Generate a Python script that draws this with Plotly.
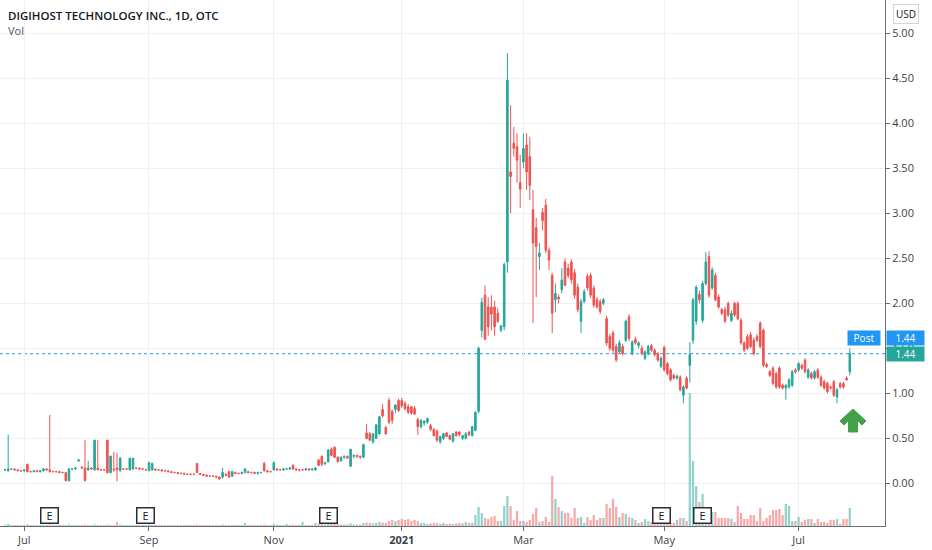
import plotly.graph_objects as go

# ---------------- DATA ----------------
# one entry per daily bar (index 0 = late June 2020, last = late July 2021)
open_ = [
    .15,.14,.16,.16,.15,.14,.14,.21,.13,.13,
    .14,.13,.14,.16,.15,.13,.13,.13,.12,.12,
    .03,.16,.16,.25,.18,.17,.15,.17,.15,.17,
    .15,.15,.48,.12,.16,.17,.14,.16,.16,.15,
    .16,.17,.17,.16,.15,.14,.15,.16,.15,.15,
    .14,.14,.13,.12,.12,.11,.11,.10,.10,.10,
    .22,.11,.10,.09,.08,.08,.08,.07,.07,.10,
    .13,.08,.12,.11,.11,.12,.13,.12,.12,.11,
    .12,.22,.14,.13,.15,.16,.15,.15,.16,.16,
    .20,.16,.15,.15,.15,.16,.15,.15,.26,.30,
    .22,.24,.38,.40,.29,.25,.29,.30,.19,.30,
    .31,.30,.29,.56,.55,.46,.50,.55,.82,.62,
    .92,.80,.82,.92,.92,.89,.85,.85,.83,.71,
    .63,.67,.68,.64,.60,.58,.46,.50,.56,.53,
    .47,.57,.57,.50,.50,.57,.53,.59,.80,1.70,
    2.09,1.96,1.96,1.96,1.89,1.70,1.74,2.46,3.46,3.78,
    3.74,3.34,3.57,3.76,3.63,3.04,2.84,2.52,3.01,3.09,
    2.59,2.31,2.04,2.07,2.15,2.46,2.39,2.46,2.34,2.18,
    1.80,2.02,2.30,2.31,2.17,2.04,2.02,2.00,1.83,1.63,
    1.67,1.52,1.46,1.52,1.59,1.85,1.44,1.60,1.53,1.50,
    1.39,1.44,1.53,1.48,1.44,1.30,1.51,1.33,1.26,1.20,
    1.17,1.18,.98,1.17,1.31,1.59,1.80,2.10,1.81,2.22,
    2.52,2.17,2.31,2.07,1.93,1.93,2.00,1.81,2.00,2.00,
    1.81,1.56,1.63,1.65,1.59,1.63,1.78,1.70,1.32,1.24,
    1.28,1.22,1.28,1.09,1.06,1.07,1.09,1.26,1.26,1.31,
    1.37,1.18,1.22,1.17,1.26,1.18,1.13,1.11,1.07,1.13,
    .96,1.11,1.11,1.17,1.24,
]
high = [
    .16,.54,.17,.16,.15,.15,.15,.22,.14,.14,
    .15,.14,.17,.17,.76,.14,.14,.14,.13,.12,
    .17,.17,.18,.27,.19,.48,.25,.18,.48,.48,
    .16,.16,.48,.31,.35,.34,.29,.17,.17,.28,
    .28,.18,.17,.17,.16,.24,.23,.16,.16,.15,
    .15,.14,.14,.13,.12,.12,.12,.11,.11,.11,
    .22,.11,.10,.10,.09,.09,.08,.08,.17,.11,
    .14,.14,.13,.12,.13,.17,.14,.13,.13,.13,
    .13,.24,.15,.14,.24,.17,.16,.17,.17,.18,
    .21,.17,.16,.16,.17,.17,.17,.18,.27,.31,
    .24,.38,.40,.41,.30,.30,.31,.31,.38,.32,
    .32,.31,.44,.66,.57,.56,.66,.75,.88,.64,
    .95,.82,.88,.94,.95,.91,.88,.86,.86,.73,
    .71,.70,.73,.66,.61,.60,.53,.56,.57,.54,
    .56,.58,.58,.54,.57,.58,.64,.80,1.52,2.06,
    2.20,2.07,2.09,2.03,1.95,1.76,2.45,4.78,4.20,3.96,
    3.89,3.65,3.89,3.89,3.85,3.26,2.95,2.67,3.06,3.16,
    2.62,2.34,2.22,2.10,2.39,2.50,2.44,2.49,2.38,2.22,
    2.05,2.16,2.33,2.34,2.20,2.07,2.05,2.06,1.86,1.66,
    1.70,1.55,1.59,1.55,1.82,1.88,1.59,1.63,1.58,1.53,
    1.48,1.54,1.55,1.50,1.46,1.41,1.53,1.35,1.28,1.22,
    1.21,1.20,1.09,1.19,1.57,2.06,2.20,2.14,2.25,2.57,
    2.58,2.40,2.34,2.10,1.95,1.96,2.02,1.92,2.02,2.02,
    1.84,1.58,1.66,1.68,1.62,1.66,1.80,1.72,1.34,1.26,
    1.30,1.24,1.30,1.11,1.10,1.17,1.26,1.28,1.35,1.33,
    1.39,1.28,1.24,1.26,1.28,1.20,1.15,1.13,1.09,1.15,
    1.06,1.13,1.13,1.19,1.50,
]
low = [
    .14,.13,.15,.14,.14,.13,.13,.12,.12,.12,
    .13,.12,.13,.14,.12,.12,.12,.12,.11,.02,
    .02,.15,.15,.24,.16,.02,.14,.15,.14,.15,
    .14,.14,.11,.11,.13,.02,.13,.15,.15,.14,
    .15,.16,.15,.15,.14,.14,.14,.14,.14,.13,
    .13,.12,.12,.11,.10,.10,.10,.09,.09,.09,
    .12,.09,.08,.08,.07,.07,.06,.04,.05,.08,
    .06,.07,.10,.10,.10,.11,.11,.11,.11,.10,
    .11,.13,.12,.12,.14,.14,.14,.14,.15,.15,
    .15,.14,.13,.14,.14,.14,.14,.14,.19,.19,
    .20,.23,.30,.28,.23,.24,.27,.27,.18,.28,
    .28,.27,.28,.49,.47,.44,.49,.54,.73,.54,
    .66,.66,.78,.79,.84,.81,.77,.76,.76,.54,
    .61,.64,.66,.58,.52,.46,.44,.48,.51,.48,
    .45,.52,.52,.48,.49,.52,.52,.58,.78,1.62,
    1.59,1.64,1.70,1.64,1.78,1.68,1.70,2.34,3.00,3.63,
    3.34,3.06,3.50,3.26,3.15,1.78,2.07,2.37,2.81,2.56,
    2.37,1.67,1.90,2.00,2.11,2.20,2.28,2.22,2.05,1.90,
    1.67,2.00,2.14,2.06,1.95,1.94,1.88,1.98,1.53,1.47,
    1.45,1.35,1.44,1.42,1.57,1.58,1.42,1.54,1.50,1.42,
    1.37,1.42,1.46,1.41,1.35,1.28,1.24,1.20,1.13,1.15,
    1.15,1.02,.89,1.04,1.12,1.55,1.76,2.00,1.78,2.20,
    2.06,2.15,2.02,1.94,1.87,1.78,1.85,1.79,1.85,1.81,
    1.54,1.46,1.48,1.50,1.42,1.57,1.50,1.29,1.28,1.18,
    1.09,1.05,1.05,1.04,.93,1.05,1.07,1.22,1.24,1.26,
    1.22,1.16,1.15,1.15,1.16,1.07,1.04,1.00,1.04,.96,
    .89,1.05,1.05,1.14,1.20,
]
close = [
    .15,.16,.16,.15,.14,.14,.15,.13,.13,.14,
    .13,.14,.16,.15,.13,.13,.13,.12,.12,.03,
    .16,.16,.17,.26,.17,.03,.17,.16,.48,.15,
    .15,.15,.12,.30,.15,.15,.28,.16,.16,.28,
    .28,.17,.16,.16,.15,.23,.22,.15,.15,.14,
    .14,.13,.12,.12,.11,.11,.10,.10,.10,.10,
    .12,.10,.09,.08,.08,.08,.07,.05,.12,.09,
    .07,.13,.11,.11,.12,.16,.12,.12,.11,.12,
    .12,.14,.13,.13,.23,.15,.15,.16,.16,.17,
    .16,.15,.15,.15,.16,.15,.16,.17,.20,.21,
    .23,.37,.31,.29,.24,.29,.30,.28,.38,.31,
    .30,.29,.43,.50,.48,.55,.65,.74,.75,.55,
    .68,.70,.87,.81,.86,.83,.79,.78,.77,.63,
    .70,.69,.72,.60,.53,.48,.52,.55,.52,.49,
    .55,.53,.54,.53,.55,.54,.63,.79,1.50,2.01,
    1.60,1.74,1.88,1.74,1.80,1.75,2.43,4.48,3.41,3.72,
    3.59,3.27,3.72,3.46,3.31,2.67,2.63,2.56,2.92,2.59,
    2.48,1.89,2.11,2.05,2.26,2.20,2.31,2.26,2.09,1.93,
    2.02,2.13,2.17,2.09,1.98,1.96,1.91,2.04,1.56,1.50,
    1.48,1.37,1.56,1.44,1.80,1.61,1.57,1.56,1.56,1.44,
    1.46,1.52,1.48,1.43,1.37,1.39,1.26,1.22,1.15,1.17,
    1.19,1.04,1.07,1.06,1.43,2.04,2.18,2.04,2.22,2.46,
    2.09,2.37,2.04,1.96,1.89,1.80,1.87,1.89,1.87,1.83,
    1.56,1.48,1.50,1.52,1.44,1.59,1.52,1.31,1.30,1.20,
    1.11,1.07,1.07,1.06,1.09,1.15,1.24,1.24,1.33,1.28,
    1.24,1.26,1.17,1.24,1.18,1.09,1.06,1.02,1.06,.98,
    1.04,1.07,1.07,1.15,1.44,
]
# volume, thousands of shares
volume = [
    100,200,100,100,100,100,100,150,100,100,
    100,100,100,100,150,100,100,100,100,100,
    150,100,100,100,100,150,100,100,150,100,
    100,100,150,100,100,400,150,100,100,100,
    100,100,100,100,100,150,100,100,100,100,
    100,100,100,100,100,100,100,100,100,100,
    150,100,100,100,100,100,100,100,150,100,
    100,100,100,100,100,300,100,100,100,100,
    100,150,100,100,200,100,100,100,200,100,
    150,100,100,400,100,100,100,300,200,200,
    150,300,200,250,200,150,150,150,250,150,
    150,150,300,350,300,250,300,400,350,300,
    500,600,500,600,700,600,700,500,600,500,
    300,300,200,250,300,300,200,300,200,250,
    200,250,300,250,400,300,300,1100,1900,1300,
    800,700,900,1000,500,500,2000,3000,2000,600,
    1500,500,500,400,600,1200,1800,400,500,900,
    400,5000,2700,1900,1500,1300,1300,800,1800,800,
    900,300,900,600,1100,600,800,800,2200,1800,
    2700,1900,900,1300,1200,900,800,600,300,400,
    700,500,400,500,300,400,500,400,300,300,
    600,800,800,500,13300,6500,4000,2400,3200,1200,
    1000,1400,1400,800,800,800,800,700,400,2000,
    1300,700,700,1100,1100,500,1800,500,800,1100,
    1600,1600,1700,1100,2200,2000,500,500,900,400,
    600,700,700,300,700,400,400,300,600,600,
    700,200,700,700,1800,
]
bar_index = list(range(len(close)))

# month boundaries (bar index) and labels of the time axis
month_ticks = [6, 45, 84, 124, 162, 206, 248]
month_labels = ["Jul", "Sep", "Nov", "<b>2021</b>", "Mar", "May", "Jul"]

# earnings ("E") markers, bar index
earnings_idx = [14, 44, 101, 205, 218]

price_ticks = [0.0, 0.5, 1.0, 1.5, 2.0, 2.5, 3.0, 3.5, 4.0, 4.5, 5.0]
post_price = 1.44

assert len(open_) == len(high) == len(low) == len(close) == len(volume) == 265

# ---------------- STYLE ----------------
UP = "#26a69a"
DOWN = "#ef5350"
UP_VOL = "rgba(38,166,154,0.5)"
DOWN_VOL = "rgba(239,83,80,0.5)"
GRID = "#eef0f4"
AXIS = "#6a6d78"
TXT = "#131722"
FONT = "Open Sans"

vol_colors = [UP_VOL if c >= o else DOWN_VOL for o, c in zip(open_, close)]

fig = go.Figure()

fig.add_trace(go.Bar(
    x=bar_index, y=volume, marker=dict(color=vol_colors, line=dict(width=0)),
    width=0.7, yaxis="y", xaxis="x", hoverinfo="skip", showlegend=False,
))

fig.add_trace(go.Candlestick(
    x=bar_index, open=open_, high=high, low=low, close=close,
    increasing=dict(line=dict(color=UP, width=1), fillcolor=UP),
    decreasing=dict(line=dict(color=DOWN, width=1), fillcolor=DOWN),
    whiskerwidth=0, yaxis="y2", xaxis="x", hoverinfo="skip", showlegend=False,
))

LBL = dict(family=FONT, size=10, color="white")
annotations = [
    dict(text="DIGIHOST TECHNOLOGY INC., 1D, OTC", xref="paper", yref="paper",
         x=0, y=1, xanchor="left", yanchor="top", xshift=6, yshift=-6, showarrow=False,
         font=dict(family=FONT, size=11.5, color=TXT, weight=600)),
    dict(text="Vol", xref="paper", yref="paper", x=0, y=1, xanchor="left", yanchor="top",
         xshift=6, yshift=-21, showarrow=False, font=dict(family=FONT, size=11, color="#50535e")),
    dict(text="USD", xref="paper", yref="paper", x=1, y=1, xanchor="left", yanchor="top",
         xshift=8, yshift=-4, showarrow=False, bordercolor="#d1d4dc", borderwidth=1,
         borderpad=2, bgcolor="white", font=dict(family=FONT, size=10, color=TXT)),
    dict(text="Post", xref="paper", yref="y2", x=1, y=post_price, xanchor="right",
         yanchor="middle", xshift=-4, yshift=16, showarrow=False, bgcolor="#2196f3",
         borderpad=1, width=30, height=12, font=LBL),
    dict(text=f"{post_price:.2f}", xref="paper", yref="y2", x=1, y=post_price,
         xanchor="left", yanchor="middle", xshift=1, yshift=16, showarrow=False,
         bgcolor="#2196f3", borderpad=1, width=35, height=12, font=LBL),
    dict(text=f"{close[-1]:.2f}", xref="paper", yref="y2", x=1, y=close[-1],
         xanchor="left", yanchor="middle", xshift=1, showarrow=False,
         bgcolor=UP, borderpad=1, width=35, height=12, font=LBL),
]
for i in earnings_idx:
    annotations.append(dict(
        text="E", xref="x", yref="paper", x=i, y=0.02, xanchor="center", yanchor="middle",
        showarrow=False, bgcolor="white", bordercolor="#2a2e39", borderwidth=1.5, borderpad=1,
        width=14, height=12, font=dict(family=FONT, size=11, color=TXT)))

W_PLOT, H_PLOT = 885.0, 526.0
def pp(px, py):
    return f"{px / W_PLOT:.5f},{(H_PLOT - py) / H_PLOT:.5f}"
arrow_pts = [(853, 409), (866, 421), (862, 425), (857.5, 420.5), (857.5, 432),
             (848.5, 432), (848.5, 420.5), (844, 425), (840, 421)]
arrow_path = "M " + " L ".join(pp(*p) for p in arrow_pts) + " Z"

shapes = [
    dict(type="line", xref="paper", x0=0, x1=1, yref="y2", y0=close[-1], y1=close[-1],
         line=dict(color="#2196f3", width=1, dash="dot"), layer="below"),
    dict(type="path", xref="paper", yref="paper", path=arrow_path,
         fillcolor="#43a047", line=dict(color="#43a047", width=1)),
]

fig.update_layout(
    width=932, height=550,
    margin=dict(l=0, r=47, t=0, b=24),
    paper_bgcolor="white", plot_bgcolor="white",
    showlegend=False, hovermode=False, bargap=0.3,
    font=dict(family=FONT, size=11, color=TXT),
    xaxis=dict(
        range=[-1.56, 275], rangeslider=dict(visible=False),
        tickmode="array", tickvals=month_ticks, ticktext=month_labels,
        showgrid=True, gridcolor=GRID, gridwidth=1, zeroline=False,
        showline=True, linecolor=AXIS, linewidth=1, ticks="outside", ticklen=4,
        tickcolor=AXIS, tickfont=dict(family=FONT, size=11, color="#3c3f48"),
        fixedrange=True,
    ),
    yaxis=dict(range=[0, 52600], visible=False, showgrid=False, fixedrange=True),
    yaxis2=dict(
        overlaying="y", side="right", range=[-0.474, 5.37],
        tickmode="array", tickvals=price_ticks, tickformat=".2f",
        showgrid=True, gridcolor=GRID, gridwidth=1, zeroline=False,
        showline=True, linecolor=AXIS, linewidth=1, ticks="outside", ticklen=4,
        tickcolor=AXIS, tickfont=dict(family=FONT, size=11, color="#3c3f48"),
        fixedrange=True,
    ),
    annotations=annotations,
    shapes=shapes,
)

fig.write_html(
    "out.html",
    config={"displayModeBar": False},
    post_script="document.body.style.margin='0';document.body.style.padding='0';",
)
